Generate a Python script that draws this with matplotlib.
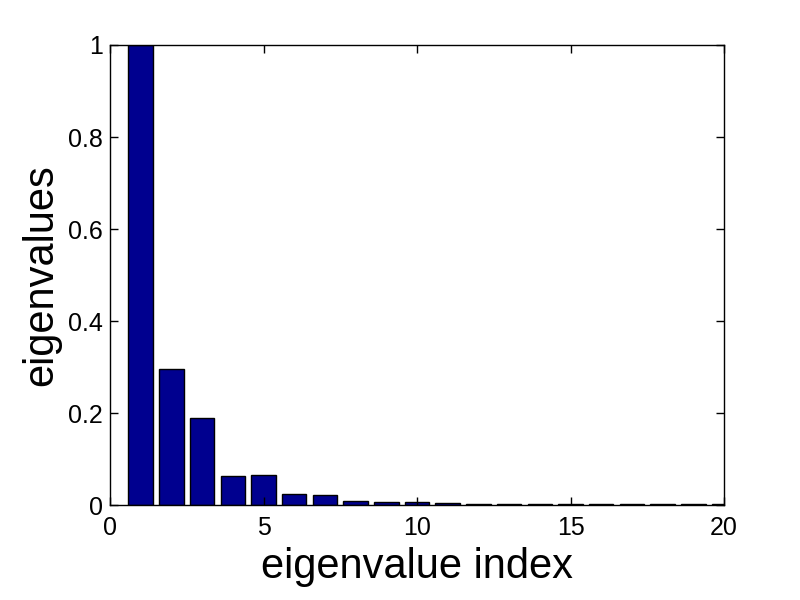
import matplotlib
matplotlib.use("Agg")
import matplotlib.pyplot as plt

indices = list(range(1, 21))
eigenvalues = [1.0, 0.296, 0.189, 0.063, 0.065, 0.024, 0.022, 0.009, 0.007, 0.007,
               0.005, 0.002, 0.002, 0.002, 0.002, 0.002, 0.002, 0.002, 0.002, 0.002]
xticks = [0, 5, 10, 15, 20]
yticks = [0, 0.2, 0.4, 0.6, 0.8, 1.0]
yticklabels = ["0", "0.2", "0.4", "0.6", "0.8", "1"]

plt.rcParams['font.family'] = ['Liberation Sans', 'DejaVu Sans']

fig = plt.figure(figsize=(8, 6), dpi=100)
ax = fig.add_axes([0.1375, 0.1583, 0.7675, 0.7667])
ax.bar(indices, eigenvalues, width=0.8, color='#00008F', edgecolor='black', linewidth=1.0)
ax.set_xlim(0, 20)
ax.set_ylim(0, 1)
ax.set_xticks(xticks)
ax.set_xticklabels([str(t) for t in xticks])
ax.set_yticks(yticks)
ax.set_yticklabels(yticklabels)
ax.tick_params(direction='in', top=True, right=True, length=6, width=1, labelsize=18)
ax.tick_params(axis='x', pad=8)
ax.tick_params(axis='y', pad=5)
for s in ax.spines.values():
    s.set_linewidth(1)
ax.set_xlabel('eigenvalue index', fontsize=30, labelpad=5)
ax.set_ylabel('eigenvalues', fontsize=30, labelpad=5)
fig.savefig('out.png', dpi=100)
